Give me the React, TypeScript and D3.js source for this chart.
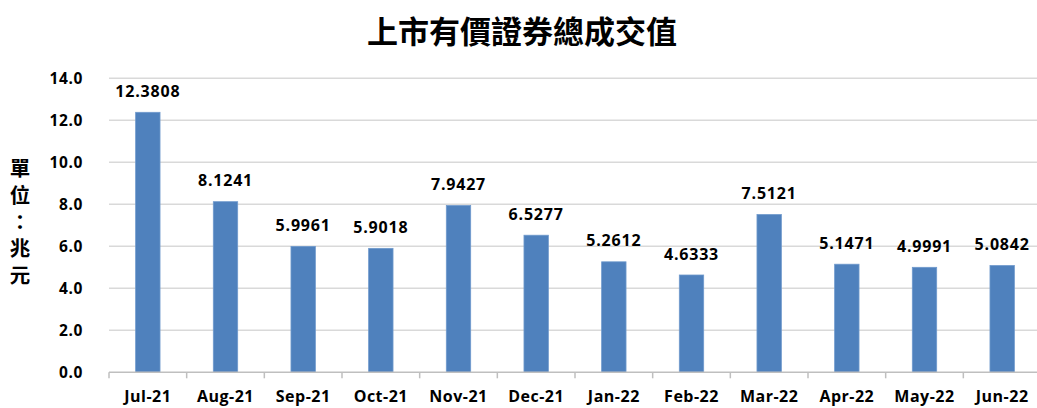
import React from "react";
import * as d3 from "d3";

const months = ["Jul-21","Aug-21","Sep-21","Oct-21","Nov-21","Dec-21","Jan-22","Feb-22","Mar-22","Apr-22","May-22","Jun-22"];
const values = [12.3808, 8.1241, 5.9961, 5.9018, 7.9427, 6.5277, 5.2612, 4.6333, 7.5121, 5.1471, 4.9991, 5.0842];
const yTicks = [0, 2, 4, 6, 8, 10, 12, 14];
const title = "上市有價證券總成交值";
const yTitle = "單位：兆元";

const W = 1037, H = 408;
const left = 109, right = 1041, top = 78.3, bottom = 372.3;

export default function App() {
  const x = d3.scaleBand<string>().domain(months).range([left, right]).padding(0);
  const y = d3.scaleLinear().domain([0, 14]).range([bottom, top]);
  const bw = x.bandwidth() * 0.314;
  const numFont = "'Open Sans', 'Liberation Sans', sans-serif";
  const boundaries = d3.range(months.length + 1).map(i => left + i * x.bandwidth());
  return (
    <div style={{ position: "absolute", left: 0, top: 0 }}>
      <svg width={W} height={H} style={{ display: "block", background: "#fff" }}>
        <text x={522} y={43} textAnchor="middle" fontFamily="'Noto Sans CJK TC', sans-serif" fontWeight={700} fontSize={31} fill="#000">{title}</text>
        <text x={20} y={158} style={{ writingMode: "vertical-rl" }} textAnchor="start" fontFamily="'Noto Sans CJK TC', sans-serif" fontWeight={700} fontSize={20.5} letterSpacing={6.25} fill="#000">{yTitle}</text>
        {yTicks.map(t => (
          <g key={t}>
            {t > 0 && <line x1={left} x2={right} y1={y(t)} y2={y(t)} stroke="#d9d9d9" strokeWidth={1.5} />}
            <text x={83} y={y(t) + 5.5} textAnchor="end" fontFamily={numFont} fontWeight={700} fontSize={15.5} letterSpacing={0.6} fill="#000">{t.toFixed(1)}</text>
          </g>
        ))}
        {months.map((m, i) => {
          const cx = (x(m) as number) + x.bandwidth() / 2;
          const v = values[i];
          return (
            <g key={m}>
              <rect x={cx - bw / 2} y={y(v)} width={bw} height={bottom - y(v)} fill="#4f81bd" stroke="#6f99cc" strokeWidth={0.8} />
              <text x={cx} y={y(v) - 15.5} textAnchor="middle" fontFamily={numFont} fontWeight={700} fontSize={16} letterSpacing={0.8} fill="#000">{v.toFixed(4)}</text>
              <text x={cx} y={402} textAnchor="middle" fontFamily={numFont} fontWeight={700} fontSize={16} letterSpacing={0.5} fill="#000">{m}</text>
            </g>
          );
        })}
        <line x1={left} x2={right} y1={bottom} y2={bottom} stroke="#bfbfbf" strokeWidth={1.5} />
        {boundaries.map((bx, i) => (
          <line key={i} x1={bx} x2={bx} y1={bottom} y2={bottom + 6} stroke="#bfbfbf" strokeWidth={1.5} />
        ))}
      </svg>
    </div>
  );
}
